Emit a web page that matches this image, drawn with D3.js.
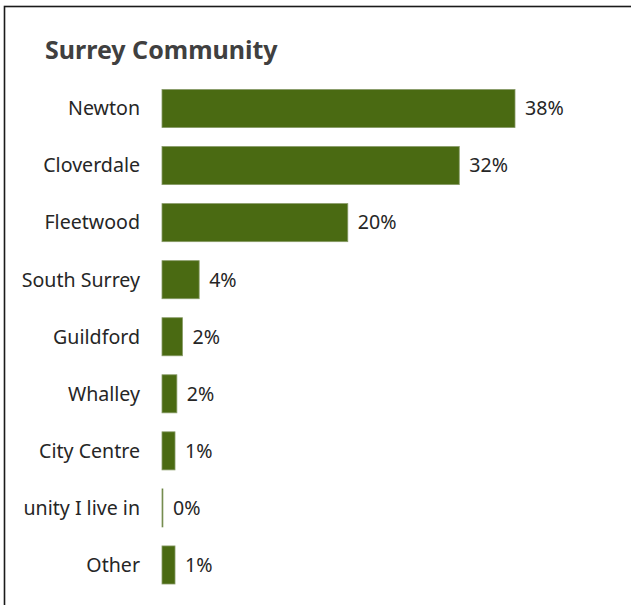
<!DOCTYPE html>
<html>
<head>
<meta charset="utf-8">
<script src="https://cdn.jsdelivr.net/npm/d3@7"></script>
<style>
  html, body { margin: 0; padding: 0; background: #fff; }
  svg { display: block; }
</style>
</head>
<body>
<svg id="chart" width="631" height="605"></svg>
<script>
// Share of respondents by Surrey community (percent)
const categories = [
  "Newton", "Cloverdale", "Fleetwood", "South Surrey", "Guildford",
  "Whalley", "City Centre", "Don't know the community I live in", "Other"
];
const values = [38, 32, 20, 4, 2.2, 1.6, 1.4, 0.1, 1.4];
const chartTitle = "Surrey Community";

const svg = d3.select("#chart");
const font = "'Noto Sans', 'Open Sans', sans-serif";

// Outer frame
svg.append("rect")
  .attr("x", 4.5).attr("y", 6.5)
  .attr("width", 700).attr("height", 700)
  .attr("fill", "#fff")
  .attr("stroke", "#1a1a1a")
  .attr("stroke-width", 1.6);

// Title
svg.append("text")
  .attr("x", 45).attr("y", 59)
  .attr("font-family", font)
  .attr("font-size", 25)
  .attr("font-weight", "bold")
  .attr("fill", "#404040")
  .text(chartTitle);

const x0 = 162;
const x = d3.scaleLinear().domain([0, 38]).range([x0, 515]);
const y = d3.scaleBand()
  .domain(categories)
  .range([80, 593.5])
  .paddingInner(0.333)
  .paddingOuter(0.1665);

// Category labels: right-aligned; long labels lose leading characters
// until they fit in the label column
const labelRight = 140, labelLeft = 22;
svg.append("g")
  .selectAll("text")
  .data(categories)
  .join("text")
  .attr("x", labelRight)
  .attr("y", d => y(d) + y.bandwidth() / 2)
  .attr("dy", "0.35em")
  .attr("text-anchor", "end")
  .attr("font-family", font)
  .attr("font-size", 19.6)
  .attr("fill", "#262626")
  .text(d => d)
  .each(function(d) {
    const t = d3.select(this);
    let s = d;
    while (s.length > 1 && this.getComputedTextLength() > labelRight - labelLeft + 1) {
      s = s.slice(1);
      t.text(s);
    }
    t.text(s.replace(/^\s+/, ""));
  });

// Bars
svg.append("g")
  .selectAll("rect")
  .data(categories)
  .join("rect")
  .attr("x", x(0))
  .attr("y", d => y(d))
  .attr("width", (d, i) => Math.max(0, x(values[i]) - x(0)))
  .attr("height", y.bandwidth())
  .attr("fill", "#4a6a12")
  .attr("stroke", "#879a66")
  .attr("stroke-width", 0.8);

// Value labels
svg.append("g")
  .selectAll("text")
  .data(categories)
  .join("text")
  .attr("x", (d, i) => x(values[i]) + 10)
  .attr("y", d => y(d) + y.bandwidth() / 2)
  .attr("dy", "0.35em")
  .attr("font-family", font)
  .attr("font-size", 19.6)
  .attr("fill", "#262626")
  .text((d, i) => Math.round(values[i]) + "%");
</script>
</body>
</html>
